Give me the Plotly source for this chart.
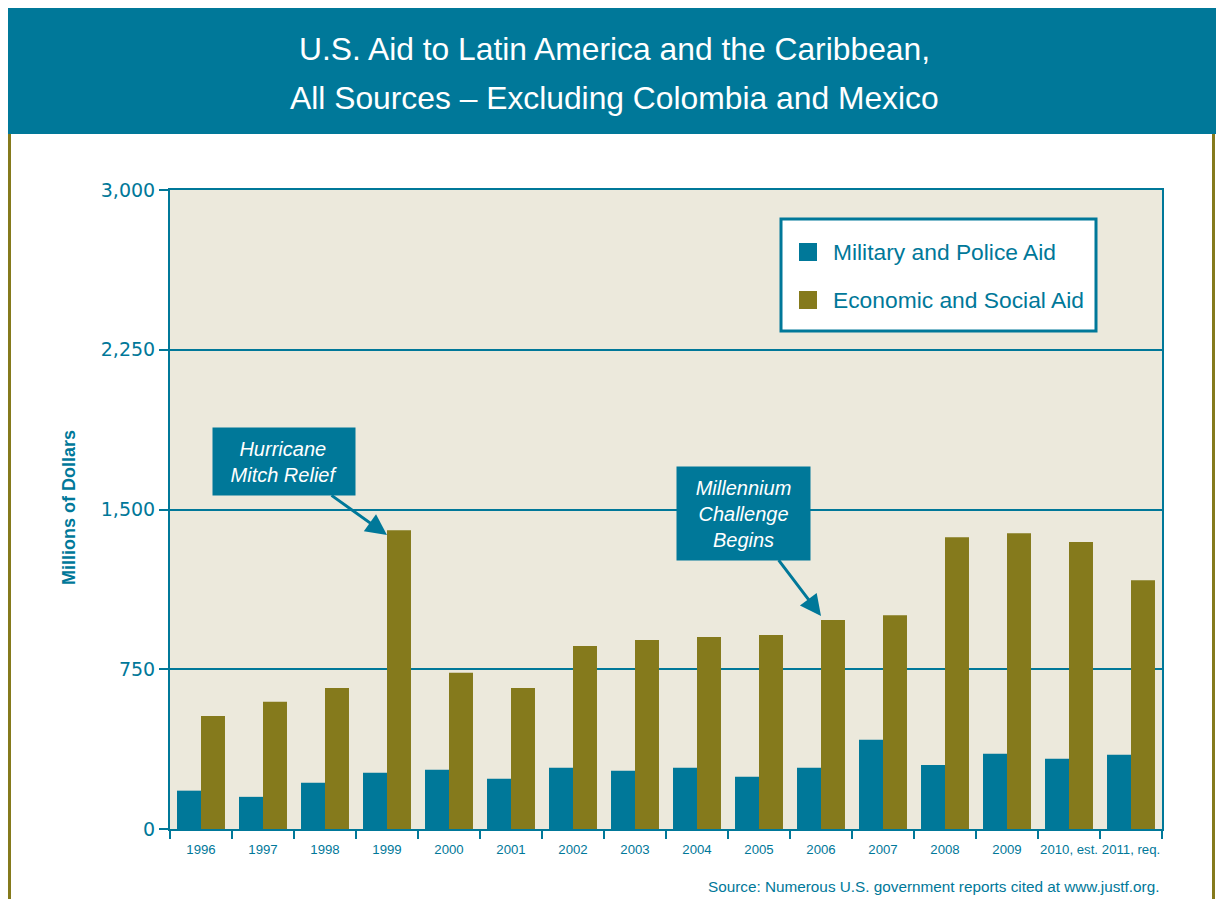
import plotly.graph_objects as go

years = ["1996", "1997", "1998", "1999", "2000", "2001", "2002", "2003",
         "2004", "2005", "2006", "2007", "2008", "2009", "2010, est.", "2011, req."]
military = [180, 151, 217, 264, 278, 236, 287, 273, 287, 245, 287, 419, 301, 353, 330, 349]
economic = [531, 597, 662, 1403, 733, 662, 859, 887, 901, 911, 981, 1004, 1370, 1389, 1347, 1168]
series_names = ["Military and Police Aid", "Economic and Social Aid"]
y_ticks = [0, 750, 1500, 2250, 3000]
y_tick_text = ["0", "750", "1,500", "2,250", "3,000"]

TEAL = "#007899"
OLIVE = "#857A1C"
BG = "#ECE9DC"

OFF = 8  # page body margin
W, H = 1224 - 2 * OFF, 907 - 2 * OFF
# plot area in reference-screen pixels
L, R, T, B = 170, 1162, 190, 829

def px(xs):
    return (xs - L) / (R - L)

def py(ys):
    return (B - ys) / (B - T)

fig = go.Figure()
fig.add_trace(go.Bar(x=years, y=military, name=series_names[0],
                     marker=dict(color=TEAL, line=dict(width=0))))
fig.add_trace(go.Bar(x=years, y=economic, name=series_names[1],
                     marker=dict(color=OLIVE, line=dict(width=0))))

fig.update_layout(
    width=W, height=H,
    margin=dict(l=L - OFF, r=(W + OFF) - R, t=T - OFF, b=(H + OFF) - B, autoexpand=False),
    paper_bgcolor="white", plot_bgcolor=BG,
    barmode="group", bargap=0.226, bargroupgap=0,
    showlegend=False,
    font=dict(family="Liberation Sans, Arial", color=TEAL),
)

fig.update_xaxes(
    type="category", tickson="boundaries", ticks="outside", ticklen=8,
    tickwidth=2, tickcolor=TEAL, showline=True, linecolor=TEAL, linewidth=2,
    mirror=True, showgrid=False, tickangle=0, automargin=False,
    ticklabelstandoff=7,
    tickfont=dict(family="Liberation Sans, Arial", size=13.2, color=TEAL),
)
fig.update_yaxes(
    range=[0, 3000], tickvals=y_ticks, ticktext=y_tick_text,
    ticks="outside", ticklen=9, tickwidth=1.5, tickcolor=TEAL,
    showline=True, linecolor=TEAL, linewidth=2, mirror=True,
    showgrid=True, gridcolor=TEAL, gridwidth=1.5, zeroline=False, automargin=False,
    tickfont=dict(family="DejaVu Sans", size=19, color=TEAL),
)

# Title banner and side frame lines
fig.add_shape(type="rect", xref="paper", yref="paper",
              x0=px(8), x1=px(1216), y0=py(134), y1=py(8),
              fillcolor=TEAL, line=dict(width=0), layer="below")
for xs in (9.5, 1213.5):
    fig.add_shape(type="line", xref="paper", yref="paper",
                  x0=px(xs), x1=px(xs), y0=py(134), y1=py(910),
                  line=dict(color=OLIVE, width=3))

title_lines = ["U.S. Aid to Latin America and the Caribbean,",
               "All Sources \u2013 Excluding Colombia and Mexico"]
for line, yc in zip(title_lines, [49, 98]):
    fig.add_annotation(
        text=line, xref="paper", yref="paper", x=px(614), y=py(yc),
        xanchor="center", yanchor="middle", showarrow=False,
        font=dict(family="Liberation Sans, Arial", size=31.8, color="white"),
    )

# Y axis title
fig.add_annotation(
    text="<b>Millions of Dollars</b>", xref="paper", yref="paper",
    x=px(69), y=py(508), xanchor="center", yanchor="middle", textangle=-90,
    showarrow=False,
    font=dict(family="Liberation Sans, Arial", size=18, color=TEAL),
)

# Source
fig.add_annotation(
    text="Source: Numerous U.S. government reports cited at www.justf.org.",
    xref="paper", yref="paper", x=px(1161), y=py(886), xanchor="right", yanchor="middle",
    showarrow=False,
    font=dict(family="Liberation Sans, Arial", size=15.3, color=TEAL),
)

# Legend box (drawn)
fig.add_shape(type="rect", xref="paper", yref="paper",
              x0=px(781), x1=px(1096), y0=py(331), y1=py(219),
              fillcolor="white", line=dict(color=TEAL, width=3))
for name, color, yc in zip(series_names, [TEAL, OLIVE], [252, 300]):
    fig.add_shape(type="rect", xref="paper", yref="paper",
                  x0=px(799), x1=px(817), y0=py(yc + 9), y1=py(yc - 9),
                  fillcolor=color, line=dict(width=0))
    fig.add_annotation(
        text=name, xref="paper", yref="paper", x=px(831), y=py(yc),
        xanchor="left", yanchor="middle", showarrow=False,
        font=dict(family="Liberation Sans, Arial", size=22.8, color=TEAL),
    )

# Callouts
fig.add_annotation(
    text="<i>Hurricane<br>Mitch Relief</i>", x=3, y=1380, xref="x", yref="y",
    ax=1.339, ay=1726, axref="x", ayref="y",
    showarrow=True, arrowhead=2, arrowsize=1.4, arrowwidth=3, arrowcolor=TEAL,
    bgcolor=TEAL, width=142, height=67, borderpad=0,
    font=dict(family="Liberation Sans, Arial", size=20, color="white"),
)
fig.add_annotation(
    text="<i>Millennium<br>Challenge<br>Begins</i>", x=10, y=1000, xref="x", yref="y",
    ax=8.742, ay=1483, axref="x", ayref="y",
    showarrow=True, arrowhead=2, arrowsize=1.4, arrowwidth=3, arrowcolor=TEAL,
    bgcolor=TEAL, width=133, height=93, borderpad=0,
    font=dict(family="Liberation Sans, Arial", size=20, color="white"),
)

fig.write_html("out.html")
